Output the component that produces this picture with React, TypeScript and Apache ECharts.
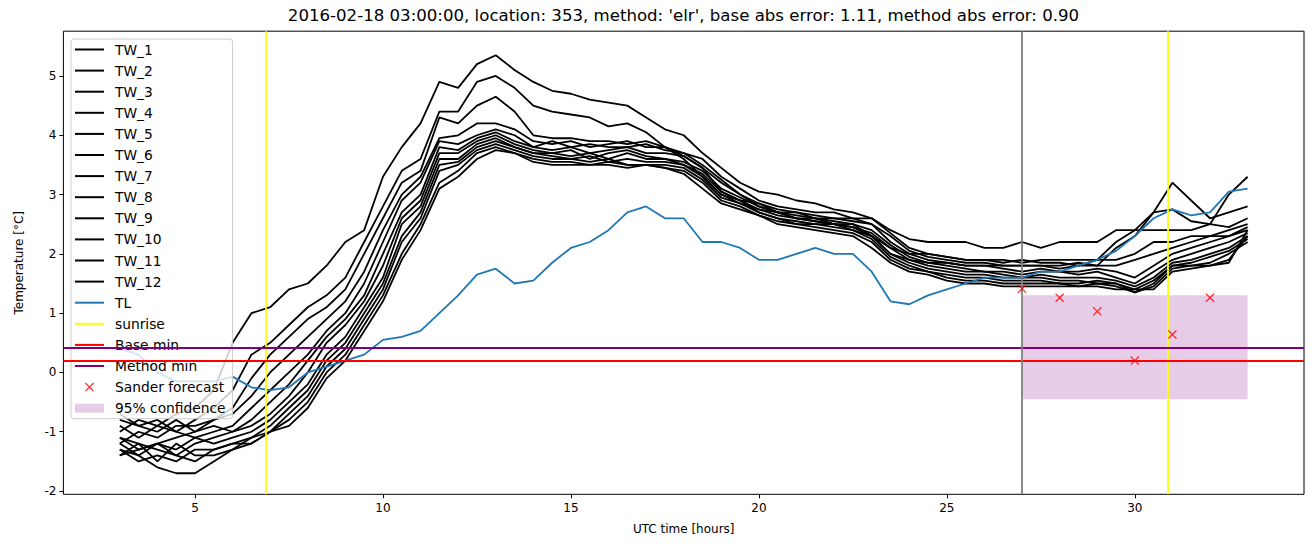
import React, { useEffect, useRef } from "react";
import * as echarts from "echarts";

// ---- data ----
const hours = [3, 3.5, 4, 4.5, 5, 5.5, 6, 6.5, 7, 7.5, 8, 8.5, 9, 9.5, 10, 10.5, 11, 11.5, 12, 12.5, 13, 13.5, 14, 14.5, 15, 15.5, 16, 16.5, 17, 17.5, 18, 18.5, 19, 19.5, 20, 20.5, 21, 21.5, 22, 22.5, 23, 23.5, 24, 24.5, 25, 25.5, 26, 26.5, 27, 27.5, 28, 28.5, 29, 29.5, 30, 30.5, 31, 31.5, 32, 32.5, 33];

const TW_1 = [-1.0, -0.8, -0.9, -0.7, -0.6, -0.3, 0.5, 1.0, 1.1, 1.4, 1.5, 1.8, 2.2, 2.4, 3.3, 3.8, 4.2, 4.9, 4.8, 5.2, 5.35, 5.1, 4.9, 4.75, 4.7, 4.6, 4.55, 4.5, 4.3, 4.1, 4.0, 3.7, 3.45, 3.2, 3.05, 3.0, 2.9, 2.85, 2.75, 2.7, 2.6, 2.4, 2.25, 2.2, 2.2, 2.2, 2.1, 2.1, 2.2, 2.1, 2.2, 2.2, 2.2, 2.4, 2.4, 2.7, 3.2, 2.9, 2.6, 2.7, 2.8];
const TW_2 = [-0.9, -1.1, -0.9, -1.0, -0.8, -0.6, -0.3, 0.3, 0.5, 0.8, 1.1, 1.3, 1.6, 2.2, 2.8, 3.4, 3.6, 4.4, 4.4, 4.9, 5.0, 4.8, 4.5, 4.4, 4.35, 4.3, 4.15, 4.2, 4.05, 3.8, 3.65, 3.45, 3.05, 2.9, 2.85, 2.7, 2.6, 2.6, 2.5, 2.5, 2.3, 2.1, 2.0, 2.0, 1.95, 1.9, 1.9, 1.9, 1.85, 1.9, 1.9, 1.9, 1.9, 2.2, 2.4, 2.4, 2.4, 2.4, 2.5, 3.0, 3.3];
const TW_3 = [-1.1, -1.3, -1.2, -1.1, -1.0, -0.8, -0.6, -0.1, 0.3, 0.6, 0.9, 1.1, 1.4, 2.0, 2.6, 3.2, 3.4, 4.3, 4.2, 4.5, 4.65, 4.4, 4.0, 3.95, 3.95, 3.9, 3.9, 3.85, 3.9, 3.8, 3.6, 3.3, 3.0, 2.85, 2.75, 2.7, 2.6, 2.55, 2.5, 2.45, 2.3, 2.0, 1.9, 1.85, 1.85, 1.8, 1.8, 1.8, 1.8, 1.8, 1.75, 1.8, 1.8, 2.1, 2.3, 2.7, 2.75, 2.55, 2.5, 2.45, 2.6];
const TW_4 = [-1.2, -1.0, -1.1, -0.9, -0.9, -0.8, -0.7, -0.4, 0.0, 0.3, 0.6, 0.9, 1.2, 1.7, 2.4, 3.0, 3.3, 3.95, 4.0, 4.2, 4.2, 4.1, 3.9, 3.85, 3.9, 3.8, 3.85, 3.9, 3.8, 3.8, 3.7, 3.6, 3.3, 3.1, 2.9, 2.8, 2.75, 2.7, 2.7, 2.6, 2.6, 2.35, 2.1, 2.0, 1.95, 1.9, 1.9, 1.85, 1.9, 1.85, 1.85, 1.8, 1.9, 1.9, 2.0, 2.2, 2.2, 2.3, 2.3, 2.4, 2.5];
const TW_5 = [-1.3, -1.4, -1.2, -1.3, -1.1, -1.0, -0.9, -0.6, -0.3, 0.0, 0.3, 0.7, 1.0, 1.5, 2.2, 2.9, 3.2, 3.9, 3.85, 4.0, 4.1, 4.0, 3.8, 3.9, 3.8, 3.85, 3.8, 3.8, 3.85, 3.75, 3.7, 3.5, 3.25, 3.0, 2.85, 2.75, 2.7, 2.65, 2.6, 2.6, 2.5, 2.3, 2.05, 1.95, 1.9, 1.85, 1.85, 1.8, 1.8, 1.8, 1.8, 1.85, 1.8, 1.8, 1.9, 2.0, 2.1, 2.2, 2.3, 2.3, 2.45];
const TW_6 = [-0.8, -0.9, -1.0, -0.8, -1.0, -0.9, -1.0, -0.8, -0.5, -0.2, 0.2, 0.6, 0.9, 1.3, 2.0, 2.7, 3.0, 3.8, 3.75, 3.95, 4.05, 3.9, 3.8, 3.75, 3.8, 3.7, 3.75, 3.8, 3.7, 3.7, 3.65, 3.45, 3.2, 3.0, 2.8, 2.7, 2.7, 2.6, 2.6, 2.55, 2.5, 2.2, 2.0, 1.9, 1.85, 1.8, 1.8, 1.75, 1.7, 1.75, 1.7, 1.7, 1.75, 1.7, 1.6, 1.8, 2.0, 2.1, 2.2, 2.3, 2.4];
const TW_7 = [-1.4, -1.2, -1.3, -1.4, -1.2, -1.1, -1.0, -0.9, -0.7, -0.4, 0.0, 0.5, 0.8, 1.2, 1.8, 2.6, 2.9, 3.7, 3.7, 3.9, 4.0, 3.85, 3.75, 3.7, 3.75, 3.6, 3.7, 3.75, 3.65, 3.6, 3.55, 3.4, 3.1, 2.95, 2.8, 2.7, 2.65, 2.6, 2.55, 2.5, 2.4, 2.15, 1.95, 1.85, 1.8, 1.75, 1.7, 1.7, 1.65, 1.7, 1.7, 1.65, 1.7, 1.6, 1.5, 1.7, 1.9, 2.0, 2.1, 2.2, 2.35];
const TW_8 = [-0.7, -0.9, -0.8, -1.0, -1.1, -1.2, -1.1, -1.0, -0.8, -0.5, -0.2, 0.3, 0.6, 1.1, 1.6, 2.5, 2.8, 3.6, 3.6, 3.85, 3.95, 3.8, 3.7, 3.7, 3.65, 3.7, 3.6, 3.7, 3.6, 3.6, 3.5, 3.35, 3.05, 2.9, 2.75, 2.65, 2.6, 2.55, 2.5, 2.45, 2.35, 2.1, 1.9, 1.8, 1.75, 1.7, 1.7, 1.65, 1.6, 1.65, 1.6, 1.6, 1.6, 1.55, 1.45, 1.6, 1.85, 1.9, 2.0, 2.1, 2.3];
const TW_9 = [-1.3, -1.5, -1.4, -1.5, -1.3, -1.3, -1.2, -1.1, -0.9, -0.6, -0.3, 0.2, 0.5, 1.0, 1.5, 2.3, 2.7, 3.5, 3.55, 3.8, 3.9, 3.8, 3.7, 3.65, 3.6, 3.65, 3.55, 3.6, 3.55, 3.55, 3.5, 3.3, 3.0, 2.9, 2.7, 2.6, 2.55, 2.5, 2.5, 2.4, 2.3, 2.0, 1.85, 1.75, 1.7, 1.65, 1.65, 1.6, 1.6, 1.6, 1.55, 1.55, 1.5, 1.5, 1.4, 1.55, 1.8, 1.85, 1.95, 2.05, 2.25];
const TW_10 = [-1.1, -1.2, -1.5, -1.2, -1.4, -1.4, -1.3, -1.1, -1.0, -0.7, -0.4, 0.1, 0.4, 0.9, 1.4, 2.2, 2.6, 3.4, 3.5, 3.75, 3.85, 3.75, 3.65, 3.6, 3.6, 3.55, 3.6, 3.5, 3.5, 3.5, 3.45, 3.25, 2.95, 2.85, 2.7, 2.6, 2.5, 2.5, 2.45, 2.4, 2.25, 1.95, 1.8, 1.7, 1.65, 1.6, 1.6, 1.55, 1.55, 1.55, 1.5, 1.5, 1.55, 1.5, 1.35, 1.5, 1.8, 1.8, 1.85, 2.0, 2.2];
const TW_11 = [-1.4, -1.3, -1.2, -1.4, -1.5, -1.3, -1.2, -1.2, -1.0, -0.8, -0.5, 0.0, 0.3, 0.8, 1.3, 2.0, 2.5, 3.2, 3.4, 3.7, 3.8, 3.7, 3.6, 3.55, 3.55, 3.5, 3.55, 3.5, 3.5, 3.45, 3.4, 3.2, 2.9, 2.8, 2.65, 2.55, 2.5, 2.45, 2.4, 2.35, 2.2, 1.9, 1.75, 1.7, 1.6, 1.55, 1.55, 1.5, 1.5, 1.5, 1.5, 1.45, 1.5, 1.45, 1.35, 1.45, 1.75, 1.8, 1.8, 1.9, 2.3];
const TW_12 = [-1.2, -1.4, -1.6, -1.7, -1.7, -1.5, -1.3, -1.2, -1.0, -0.9, -0.6, -0.1, 0.2, 0.7, 1.2, 1.9, 2.4, 3.1, 3.3, 3.6, 3.75, 3.7, 3.55, 3.5, 3.5, 3.5, 3.5, 3.45, 3.5, 3.45, 3.35, 3.1, 2.85, 2.75, 2.65, 2.5, 2.45, 2.4, 2.35, 2.3, 2.1, 1.85, 1.7, 1.65, 1.55, 1.5, 1.5, 1.45, 1.45, 1.45, 1.45, 1.45, 1.45, 1.4, 1.4, 1.4, 1.7, 1.75, 1.8, 1.85, 2.4];
const TL = [0.4, 0.3, 0.0, -0.15, -0.15, -0.15, -0.07, -0.25, -0.3, -0.25, 0.0, 0.1, 0.2, 0.3, 0.55, 0.6, 0.7, 1.0, 1.3, 1.65, 1.75, 1.5, 1.55, 1.85, 2.1, 2.2, 2.4, 2.7, 2.8, 2.6, 2.6, 2.2, 2.2, 2.1, 1.9, 1.9, 2.0, 2.1, 2.0, 2.0, 1.7, 1.2, 1.15, 1.3, 1.4, 1.5, 1.6, 1.6, 1.6, 1.7, 1.7, 1.8, 1.9, 2.05, 2.3, 2.6, 2.75, 2.65, 2.7, 3.05, 3.1];

const twNames = ["TW_1", "TW_2", "TW_3", "TW_4", "TW_5", "TW_6", "TW_7", "TW_8", "TW_9", "TW_10", "TW_11", "TW_12"];
const twValues = [TW_1, TW_2, TW_3, TW_4, TW_5, TW_6, TW_7, TW_8, TW_9, TW_10, TW_11, TW_12];

const sunriseHours = [6.88, 30.88];
const forecastHour = 27;
const baseMin = 0.2;
const methodMin = 0.42;
const sanderHours = [27, 28, 29, 30, 31, 32];
const sanderValues = [1.41, 1.26, 1.03, 0.2, 0.64, 1.26];
const confidenceBand = [27, 33, -0.45, 1.3]; // x0, x1, lower, upper

const xTicks = [5, 10, 15, 20, 25, 30];
const yTicks = [-2, -1, 0, 1, 2, 3, 4, 5];
const xRange = [1.5, 34.5];
const yRange = [-2.055, 5.755];

const titleText = "2016-02-18 03:00:00, location: 353, method: 'elr', base abs error: 1.11, method abs error: 0.90";

const FONT = "DejaVu Sans";
const CROSS = "path://M0,1 L1,0 L5,4 L9,0 L10,1 L6,5 L10,9 L9,10 L5,6 L1,10 L0,9 L4,5 Z";
const LINE_ICON = "path://M0,0 L29,0 L29,2 L0,2 Z";

export default function App() {
  const ref = useRef<HTMLDivElement>(null);
  useEffect(() => {
    if (!ref.current) return;
    const chart = echarts.init(ref.current, undefined, { renderer: "svg" });

    const lineSeries = (name: string, vals: number[], color: string, z: number) => ({
      name,
      type: "line",
      data: hours.map((h, i) => [h, vals[i]]),
      symbol: "none",
      showSymbol: false,
      lineStyle: { color, width: 1.8 },
      itemStyle: { color },
      z,
      silent: true,
    });

    const markOnly = (name: string, color: string, data: any[]) => ({
      name,
      type: "line",
      data: [],
      symbol: "none",
      lineStyle: { color, width: 1.8 },
      itemStyle: { color },
      z: 4,
      markLine: {
        silent: true,
        symbol: ["none", "none"],
        label: { show: false },
        lineStyle: { color, width: 1.8, type: "solid" },
        data,
        z: 4,
      },
    });

    const series: any[] = [];
    twNames.forEach((n, i) => series.push(lineSeries(n, twValues[i], "#000000", 3)));
    series.push(lineSeries("TL", TL, "#1f77b4", 3));
    series.push(markOnly("sunrise", "#ffff00", sunriseHours.map((h) => ({ xAxis: h }))));
    series.push(markOnly("Base min", "#ff0000", [{ yAxis: baseMin }]));
    series.push(markOnly("Method min", "#800080", [{ yAxis: methodMin }]));
    series.push(markOnly("forecast time", "#808080", [{ xAxis: forecastHour }]));
    series.push({
      name: "Sander forecast",
      type: "scatter",
      data: sanderHours.map((h, i) => [h, sanderValues[i]]),
      symbol: CROSS,
      symbolSize: 9,
      itemStyle: { color: "#ff0000" },
      z: 5,
      silent: true,
    });
    series.push({
      name: "95% confidence",
      type: "custom",
      data: [confidenceBand],
      encode: { x: [0, 1], y: [2, 3] },
      itemStyle: { color: "rgba(128,0,128,0.2)" },
      z: 1,
      silent: true,
      renderItem: (params: any, api: any) => {
        const p1 = api.coord([api.value(0), api.value(3)]);
        const p2 = api.coord([api.value(1), api.value(2)]);
        return {
          type: "rect",
          shape: { x: p1[0], y: p1[1], width: p2[0] - p1[0], height: p2[1] - p1[1] },
          style: { fill: "rgba(128,0,128,0.2)" },
        };
      },
    });

    const lineLegend = (name: string, color: string) => ({
      name,
      icon: LINE_ICON,
      itemStyle: { color, borderWidth: 0 },
    });

    const legendData: any[] = [
      ...twNames.map((n) => lineLegend(n, "#000000")),
      lineLegend("TL", "#1f77b4"),
      lineLegend("sunrise", "#ffff00"),
      lineLegend("Base min", "#ff0000"),
      lineLegend("Method min", "#800080"),
      { name: "Sander forecast", icon: CROSS, itemStyle: { color: "#ff0000" } },
      { name: "95% confidence", icon: "rect", itemStyle: { color: "rgba(128,0,128,0.2)" } },
    ];

    chart.setOption({
      animation: false,
      backgroundColor: "#ffffff",
      textStyle: { fontFamily: FONT },
      title: {
        text: titleText,
        left: 683.5,
        textAlign: "center",
        top: 7,
        padding: 0,
        textStyle: { fontFamily: FONT, fontSize: 16.6, fontWeight: "normal", color: "#000" },
      },
      grid: {
        left: 63.4,
        right: 9,
        top: 31.2,
        bottom: 52.7,
        show: true,
        borderColor: "#000",
        borderWidth: 1,
        backgroundColor: "transparent",
        containLabel: false,
      },
      legend: {
        orient: "vertical",
        left: 71,
        top: 39,
        padding: [3, 7, 3, 4],
        itemWidth: 29,
        itemHeight: 9,
        itemGap: 6.1,
        backgroundColor: "rgba(255,255,255,0.8)",
        borderColor: "#cccccc",
        borderWidth: 1,
        borderRadius: 3,
        selectedMode: false,
        data: legendData,
        textStyle: { fontFamily: FONT, fontSize: 13.8, color: "#000", lineHeight: 15, padding: [0, 0, 0, 6] },
      },
      xAxis: {
        type: "value",
        min: xRange[0],
        max: xRange[1],
        name: "UTC time [hours]",
        nameLocation: "middle",
        nameGap: 29,
        nameTextStyle: { fontFamily: FONT, fontSize: 12, color: "#000" },
        axisLine: { show: false, onZero: false },
        splitLine: { show: false },
        axisTick: { show: true, inside: false, length: 4, lineStyle: { color: "#000" }, customValues: xTicks },
        axisLabel: { color: "#000", fontSize: 12, fontFamily: FONT, margin: 8, customValues: xTicks },
      },
      yAxis: {
        type: "value",
        min: yRange[0],
        max: yRange[1],
        name: "Temperature [°C]",
        nameLocation: "middle",
        nameRotate: 90,
        nameGap: 38,
        nameTextStyle: { fontFamily: FONT, fontSize: 12, color: "#000" },
        axisLine: { show: false, onZero: false },
        splitLine: { show: false },
        axisTick: { show: true, inside: false, length: 4, lineStyle: { color: "#000" }, customValues: yTicks },
        axisLabel: { color: "#000", fontSize: 12, fontFamily: FONT, margin: 7, customValues: yTicks },
      },
      series,
    });

    return () => chart.dispose();
  }, []);

  return (
    <div
      ref={ref}
      style={{ position: "fixed", left: 0, top: 0, width: 1313, height: 547, background: "#fff" }}
    />
  );
}
